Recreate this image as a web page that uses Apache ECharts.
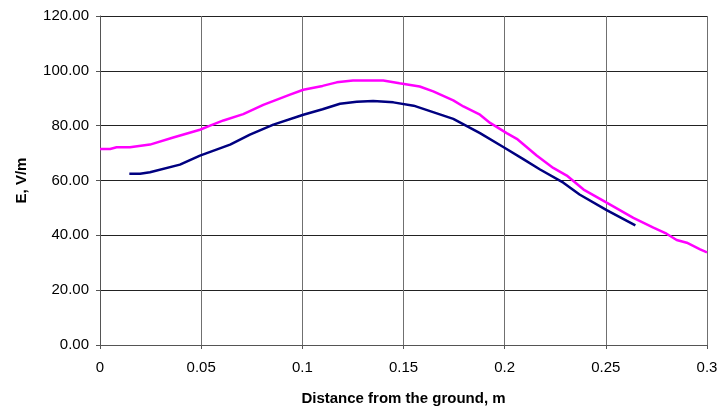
<!DOCTYPE html>
<html>
<head>
<meta charset="utf-8">
<script src="https://cdn.jsdelivr.net/npm/echarts@6/dist/echarts.min.js"></script>
<style>
  html, body { margin: 0; padding: 0; background: #fff; }
  #chart { width: 721px; height: 411px; }
</style>
</head>
<body>
<div id="chart"></div>
<script>
// magenta curve: [distance m, E V/m]
var upperCurve = [
  [0, 71.5], [0.005, 71.5], [0.0082, 72.1], [0.0148, 72.1], [0.0247, 73.1],
  [0.0362, 75.7], [0.0494, 78.5], [0.0544, 80], [0.061, 81.9], [0.0708, 84.2],
  [0.0807, 87.6], [0.0939, 91.3], [0.1005, 93.1], [0.110, 94.5], [0.117, 95.8],
  [0.125, 96.5], [0.140, 96.5], [0.148, 95.5], [0.158, 94.3], [0.1647, 92.5],
  [0.1746, 89.2], [0.1796, 87], [0.1878, 84], [0.1928, 81], [0.201, 77.3],
  [0.206, 75.2], [0.2158, 69.1], [0.224, 64.6], [0.2307, 61.8], [0.239, 56.7],
  [0.2504, 51.9], [0.2636, 46.4], [0.2735, 42.8], [0.280, 40.6], [0.285, 38.3],
  [0.290, 37.3], [0.2966, 34.9], [0.3, 33.8]
];
// navy curve
var lowerCurve = [
  [0.0145, 62.5], [0.0198, 62.5], [0.0247, 63], [0.0395, 65.8], [0.0494, 69.1],
  [0.0643, 73.1], [0.0741, 76.7], [0.0857, 80.4], [0.1005, 84], [0.110, 86],
  [0.1186, 88], [0.1269, 88.7], [0.135, 89], [0.145, 88.5], [0.155, 87.3],
  [0.1746, 82.5], [0.1878, 77.3], [0.1993, 72.2], [0.209, 67.9], [0.2175, 64],
  [0.229, 59.2], [0.237, 54.9], [0.2504, 49.2], [0.2646, 43.6]
];
var xTickLabels = ['0', '0.05', '0.1', '0.15', '0.2', '0.25', '0.3'];

var myChart = echarts.init(document.getElementById('chart'));
var font = 'Liberation Sans, Arial, sans-serif';

var option = {
  animation: false,
  backgroundColor: '#fff',
  grid: { left: 100, right: 14, top: 16, bottom: 65 },
  xAxis: {
    type: 'value',
    min: 0,
    max: 0.3,
    interval: 0.05,
    name: 'Distance from the ground, m',
    nameLocation: 'middle',
    nameGap: 46,
    nameTextStyle: { fontFamily: font, fontSize: 15, fontWeight: 'bold', color: '#000' },
    axisLine: { show: true, lineStyle: { color: '#555', width: 1 } },
    axisTick: { show: true, length: 4, lineStyle: { color: '#555' } },
    axisLabel: {
      fontFamily: font, fontSize: 15, color: '#000', margin: 15,
      formatter: function (v) { return xTickLabels[Math.round(v / 0.05)]; }
    },
    splitLine: { show: true, lineStyle: { color: '#707070', width: 1 } }
  },
  yAxis: {
    type: 'value',
    min: 0,
    max: 120,
    interval: 20,
    name: 'E, V/m',
    nameLocation: 'middle',
    nameGap: 71,
    nameRotate: 90,
    nameTextStyle: { fontFamily: font, fontSize: 15, fontWeight: 'bold', color: '#000' },
    axisLine: { show: true, lineStyle: { color: '#555', width: 1 } },
    axisTick: { show: true, length: 4, lineStyle: { color: '#555' } },
    axisLabel: {
      fontFamily: font, fontSize: 15, color: '#000', margin: 11,
      formatter: function (v) { return v.toFixed(2); }
    },
    splitLine: { show: true, lineStyle: { color: '#222', width: 1 } }
  },
  series: [
    {
      name: 'upper',
      type: 'line',
      data: upperCurve,
      showSymbol: false,
      lineStyle: { color: '#ff00ff', width: 2.5 }
    },
    {
      name: 'lower',
      type: 'line',
      data: lowerCurve,
      showSymbol: false,
      lineStyle: { color: '#000080', width: 2.5 }
    }
  ]
};

option && myChart.setOption(option);
</script>
</body>
</html>
